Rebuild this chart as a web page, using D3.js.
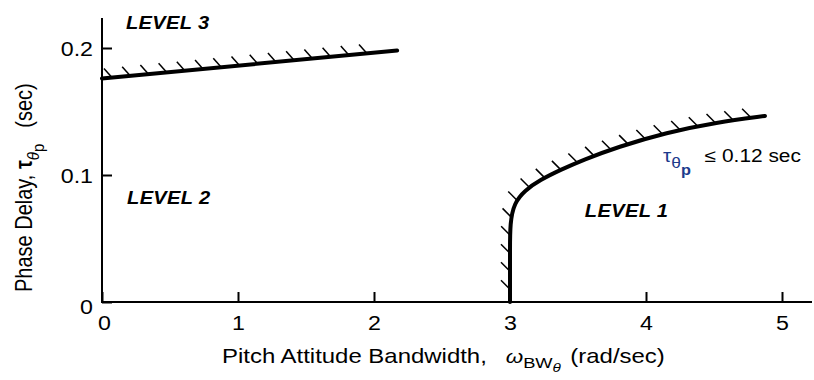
<!DOCTYPE html>
<html>
<head>
<meta charset="utf-8">
<script src="https://cdn.jsdelivr.net/npm/d3@7/dist/d3.min.js"></script>
<style>
  html, body { margin: 0; padding: 0; background: #fff; }
  svg { display: block; }
  text { font-family: "Liberation Sans", Arial, Helvetica, sans-serif; fill: #000; }
</style>
</head>
<body>
<svg id="chart" width="814" height="380"></svg>
<script>
// Pitch attitude bandwidth criterion boundaries
const xTicks = [0, 1, 2, 3, 4, 5];
const yTicks = [0, 0.1, 0.2];
const yTickLabels = ["0", "0.1", "0.2"];

// Level 2 / Level 3 boundary (bandwidth rad/s, phase delay s)
const level3Bw  = [0, 2.17];
const level3Tau = [0.176, 0.198];

// Level 1 / Level 2 boundary, listed from the high-bandwidth end down to the vertical leg
const level1Bw  = [4.875,  4.52,  4.15,  3.79,  3.54,  3.37,  3.22,  3.11,  3.03,  3.0,   3.0,   3.0,   3.0];
const level1Tau = [0.1465, 0.1415, 0.1335, 0.122, 0.112, 0.104, 0.096, 0.088, 0.078, 0.062, 0.04, 0.02, 0.0];

const regionNames = ["LEVEL 3", "LEVEL 2", "LEVEL 1"];
const regionBw  = [0.176, 0.184, 3.55];
const regionTau = [0.215, 0.077, 0.067];

// text in this figure is set slightly wide
const SX = 1.16;

const svg = d3.select("#chart");

const x = d3.scaleLinear().domain([0, 5]).range([102, 782]);
const y = d3.scaleLinear().domain([0, 0.2]).range([302, 48]);

// Axis spines, the x spine running on past the last tick
svg.append("line")
  .attr("x1", x(0)).attr("x2", 812).attr("y1", y(0)).attr("y2", y(0))
  .attr("stroke", "#000").attr("stroke-width", 2);
svg.append("line")
  .attr("x1", x(0)).attr("x2", x(0)).attr("y1", y(0) + 1).attr("y2", 18)
  .attr("stroke", "#000").attr("stroke-width", 2);

// Inward ticks
const xAxis = d3.axisBottom(x).tickValues(xTicks).tickSizeInner(-10).tickSizeOuter(0)
  .tickFormat(d3.format("d"));
const gx = svg.append("g").attr("transform", `translate(0,${y(0)})`).call(xAxis);
gx.select(".domain").remove();
gx.selectAll(".tick line").attr("stroke", "#000").attr("stroke-width", 2);
gx.selectAll(".tick text")
  .attr("font-size", 20).attr("font-family", null)
  .attr("y", 0).attr("dy", 0)
  .attr("transform", d => `translate(${d === 0 ? 2 : 0},28) scale(${SX},1)`);

const yAxis = d3.axisLeft(y).tickValues(yTicks).tickSizeInner(-10).tickSizeOuter(0)
  .tickFormat((d, i) => yTickLabels[i]);
const gy = svg.append("g").attr("transform", `translate(${x(0)},0)`).call(yAxis);
gy.select(".domain").remove();
gy.selectAll(".tick line").attr("stroke", "#000").attr("stroke-width", 2);
gy.selectAll(".tick text")
  .attr("font-size", 20).attr("font-family", null)
  .attr("x", 0).attr("dy", 0)
  .attr("transform", d => `translate(-9,${d === 0 ? 11 : 7}) scale(${SX},1)`);

// Boundary lines with hatching on the degraded side
const line = d3.line().x(d => x(d[0])).y(d => y(d[1]));

function hatched(pts, curve, spacing, start, end, hx, hy) {
  const p = svg.append("path")
    .attr("d", line.curve(curve)(pts))
    .attr("fill", "none").attr("stroke", "#000")
    .attr("stroke-width", 4).attr("stroke-linecap", "round");
  const len = p.node().getTotalLength();
  const g = svg.append("g").attr("stroke", "#000").attr("stroke-width", 1.5);
  for (let s = start; s <= len - end; s += spacing) {
    const pt = p.node().getPointAtLength(s);
    g.append("line")
      .attr("x1", pt.x).attr("y1", pt.y)
      .attr("x2", pt.x + hx).attr("y2", pt.y + hy);
  }
}

hatched(level3Bw.map((b, i) => [b, level3Tau[i]]), d3.curveLinear, 18.3, 10, 12, -8, -9);
hatched(level1Bw.map((b, i) => [b, level1Tau[i]]), d3.curveBasis, 18, 14, 2, -9, -9);

// Region labels
svg.append("g").selectAll("text").data(regionNames).join("text")
  .attr("transform", (d, i) => `translate(${x(regionBw[i])},${y(regionTau[i])}) scale(1.06,1)`)
  .attr("font-size", 19).attr("font-style", "italic").attr("font-weight", "bold")
  .attr("letter-spacing", 0.3)
  .text(d => d);

// Level 1 phase-delay note
const note = svg.append("text")
  .attr("transform", `translate(663,162) scale(${SX},1)`).attr("font-size", 18);
note.append("tspan").attr("fill", "#1d3b8c").text("τ");
note.append("tspan").attr("fill", "#1d3b8c").attr("font-size", 15).attr("dy", 6).text("θ");
note.append("tspan").attr("fill", "#1d3b8c").attr("font-size", 14).attr("font-weight", "bold").attr("dy", 7).text("p");
note.append("tspan").attr("dy", -13).attr("dx", 12).text("≤ 0.12 sec");

// Axis titles
const xt = svg.append("text")
  .attr("transform", `translate(222,363) scale(1.18,1)`).attr("font-size", 20.3);
xt.append("tspan").text("Pitch Attitude Bandwidth,");
xt.append("tspan").attr("dx", 16).attr("font-style", "italic").attr("font-size", 19).text("ω");
xt.append("tspan").attr("font-size", 15.5).attr("dy", 5).text("BW");
xt.append("tspan").attr("font-size", 13).attr("font-style", "italic").attr("dy", 4).text("θ");
xt.append("tspan").attr("dy", -9).attr("dx", 8).text("(rad/sec)");

const yt = svg.append("text")
  .attr("transform", `translate(32,292) scale(${SX},1) rotate(-90)`).attr("font-size", 20);
yt.append("tspan").text("Phase Delay, ");
yt.append("tspan").attr("font-weight", "bold").text("τ");
yt.append("tspan").attr("font-size", 15).attr("font-style", "italic").attr("dy", 6).text("θ");
yt.append("tspan").attr("font-size", 15).attr("dy", 4).text("p");
yt.append("tspan").attr("dy", -10).attr("dx", 16).text("(sec)");
</script>
</body>
</html>
